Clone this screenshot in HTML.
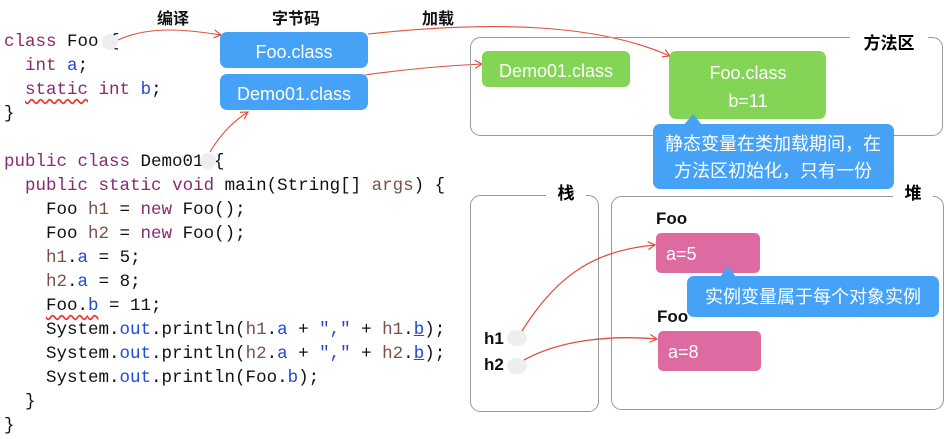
<!DOCTYPE html>
<html><head><meta charset="utf-8"><style>
body{margin:0;background:#fff;width:945px;height:439px;overflow:hidden}
.code{position:absolute;left:4px;top:30px;font-family:"Liberation Mono",monospace;font-size:17.5px;line-height:24px;white-space:pre;color:#111}
.k{color:#8a2a72}.v{color:#7a5048}.f{color:#1f49d6}
</style></head><body>
<div class="code"><span class="k">class</span> Foo {
  <span class="k">int</span> <span class="f">a</span>;
  <span class="k" style="text-decoration:underline wavy #e33;text-underline-offset:4px">static</span> <span class="k">int</span> <span class="f">b</span>;
}

<span class="k">public</span> <span class="k">class</span> Demo01 {
  <span class="k">public</span> <span class="k">static</span> <span class="k">void</span> main(String[] <span class="v">args</span>) {
    Foo <span class="v">h1</span> = <span class="k">new</span> Foo();
    Foo <span class="v">h2</span> = <span class="k">new</span> Foo();
    <span class="v">h1</span>.<span class="f">a</span> = 5;
    <span class="v">h2</span>.<span class="f">a</span> = 8;
    <span style="text-decoration:underline wavy #e33;text-underline-offset:4px">Foo.<span class="f">b</span></span> = 11;
    System.<span class="f">out</span>.println(<span class="v">h1</span>.<span class="f">a</span> + <span class="f">","</span> + <span class="v">h1</span>.<span class="f" style="text-decoration:underline">b</span>);
    System.<span class="f">out</span>.println(<span class="v">h2</span>.<span class="f">a</span> + <span class="f">","</span> + <span class="v">h2</span>.<span class="f" style="text-decoration:underline">b</span>);
    System.<span class="f">out</span>.println(Foo.<span class="f">b</span>);
  }
}</div>
<svg width="945" height="439" style="position:absolute;left:0;top:0" font-family="Liberation Sans, Noto Sans CJK SC, sans-serif">
<defs><marker id="ar" markerWidth="10" markerHeight="10" refX="8" refY="5" orient="auto" markerUnits="userSpaceOnUse"><path d="M1,1 L8,5 L1,9" fill="none" stroke="#e0503c" stroke-width="1.2"/></marker></defs>
<g font-weight="bold" font-size="16" fill="#111" text-anchor="middle">
<text x="173" y="24">编译</text><text x="296" y="24">字节码</text><text x="438" y="24">加载</text>
</g>
<ellipse cx="110" cy="42" rx="8" ry="8" fill="#eee"/>
<ellipse cx="208" cy="161" rx="8" ry="8" fill="#eee"/>
<g fill="none" stroke="#e0503c" stroke-width="1.1" marker-end="url(#ar)">
<path d="M118,40 C150,25 190,30 221,35"/>
<path d="M210,152 C220,135 232,122 248,112"/>
<path d="M368,34 C500,20 600,25 670,56"/>
<path d="M365,75 C400,70 440,66 482,64"/>
</g>
<rect x="220" y="32" width="148" height="36" rx="7" fill="#45a2f6"/>
<rect x="220" y="74" width="148" height="36" rx="7" fill="#45a2f6"/>
<g fill="#fff" font-size="18" text-anchor="middle"><text x="294" y="58">Foo.class</text><text x="294" y="100">Demo01.class</text></g>
<rect x="470.5" y="37.5" width="472" height="98" rx="10" fill="none" stroke="#999"/>
<rect x="850" y="25" width="78" height="28" fill="#fff"/>
<text x="889" y="49" font-weight="bold" font-size="17" text-anchor="middle">方法区</text>
<rect x="482" y="51" width="148" height="36" rx="6" fill="#84d455"/>
<text x="556" y="77" fill="#fff" font-size="18" text-anchor="middle">Demo01.class</text>
<rect x="669" y="51" width="157" height="68" rx="7" fill="#84d455"/>
<g fill="#fff" font-size="18" text-anchor="middle"><text x="748" y="79">Foo.class</text><text x="748" y="107">b=11</text></g>
<rect x="470.5" y="195.5" width="128" height="216" rx="10" fill="none" stroke="#999"/>
<rect x="546" y="185" width="40" height="20" fill="#fff"/>
<text x="566" y="199" font-weight="bold" font-size="17" text-anchor="middle">栈</text>
<rect x="611.5" y="196.5" width="332" height="213" rx="10" fill="none" stroke="#999"/>
<rect x="893" y="185" width="40" height="22" fill="#fff"/>
<text x="913" y="199" font-weight="bold" font-size="17" text-anchor="middle">堆</text>
<g font-weight="bold" font-size="17" fill="#111"><text x="656" y="224">Foo</text><text x="657" y="322">Foo</text><text x="484" y="344">h1</text><text x="484" y="370">h2</text></g>
<ellipse cx="517" cy="338" rx="10" ry="8" fill="#eee"/>
<ellipse cx="517" cy="366" rx="10" ry="8" fill="#eee"/>
<rect x="656" y="233" width="104" height="40" rx="5" fill="#dd6aa0"/>
<rect x="658" y="331" width="103" height="40" rx="5" fill="#dd6aa0"/>
<g fill="#fff" font-size="18"><text x="666" y="260">a=5</text><text x="668" y="358">a=8</text></g>
<g fill="none" stroke="#e0503c" stroke-width="1.3" marker-end="url(#ar)">
<path d="M522,331 C560,270 600,250 655,245"/>
<path d="M524,360 C560,340 610,335 657,339"/>
</g>
<path d="M684,125 L693,114 L702,125 Z" fill="#45a2f6"/>
<rect x="653" y="124" width="241" height="65" rx="7" fill="#45a2f6"/>
<g fill="#fff" font-size="18" text-anchor="middle"><text x="773" y="150">静态变量在类加载期间，在</text><text x="773" y="177">方法区初始化，只有一份</text></g>
<path d="M720,277 L728,266 L736,277 Z" fill="#45a2f6"/>
<rect x="687" y="276" width="252" height="41" rx="7" fill="#45a2f6"/>
<text x="813" y="303" fill="#fff" font-size="18" text-anchor="middle">实例变量属于每个对象实例</text>
</svg>
</body></html>
